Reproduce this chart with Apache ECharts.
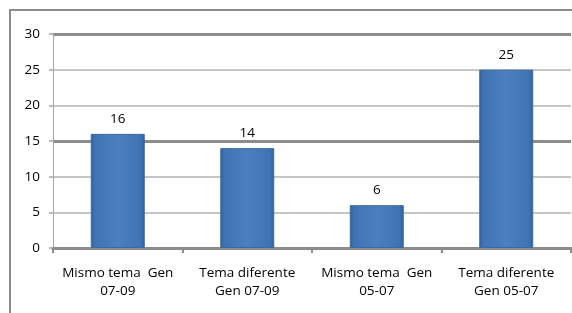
<!DOCTYPE html>
<html lang="es">
<head>
    <meta charset="UTF-8">
    <title>chart</title>
    <script src="https://cdn.jsdelivr.net/npm/echarts@6/dist/echarts.min.js"></script>
    <style>
        html, body { margin: 0; padding: 0; background: #fff; }
    </style>
</head>
<body>
<div id="main" style="width: 572px;height:313px;"></div>
<script>
    var categories = ['Mismo tema  Gen\n07-09', 'Tema diferente\nGen 07-09', 'Mismo tema  Gen\n05-07', 'Tema diferente\nGen 05-07'];
    var values = [16, 14, 6, 25];
    var yTicks = [0, 5, 10, 15, 20, 25, 30];

    var font = "'Open Sans', 'Noto Sans', sans-serif";
    var myChart = echarts.init(document.getElementById('main'));

    var option = {
        animation: false,
        graphic: [
            {
                type: 'polyline',
                shape: { points: [[10, 313], [10, 10], [572, 10]] },
                style: { stroke: '#8c8c8c', lineWidth: 2, fill: null }
            }
        ],
        grid: { left: 53, right: 1, top: 34, bottom: 65 },
        xAxis: {
            type: 'category',
            data: categories,
            axisLine: { lineStyle: { color: '#8c8c8c', width: 3 } },
            axisTick: { show: true, length: 5, inside: false, lineStyle: { color: '#8c8c8c', width: 2 } },
            axisLabel: { color: '#000', fontSize: 13.5, fontFamily: font, lineHeight: 18, margin: 16, interval: 0 }
        },
        yAxis: [
            {
                type: 'value',
                min: yTicks[0],
                max: yTicks[yTicks.length - 1],
                interval: 5,
                axisLine: { show: true, lineStyle: { color: '#a6a6a6', width: 1 } },
                axisTick: { show: true, length: 4, lineStyle: { color: '#a6a6a6', width: 1.5 } },
                axisLabel: { color: '#000', fontSize: 13.5, fontFamily: font, margin: 13 },
                splitLine: { show: true, lineStyle: { color: '#b3b3b3', width: 1.5 } }
            },
            {
                type: 'value',
                min: 0,
                max: 30,
                interval: 15,
                position: 'left',
                axisLine: { show: false },
                axisTick: { show: false },
                axisLabel: { show: false },
                splitLine: { show: true, lineStyle: { color: '#8c8c8c', width: 3 } }
            }
        ],
        series: [
            {
                type: 'bar',
                data: values,
                barWidth: 54,
                itemStyle: {
                    color: new echarts.graphic.LinearGradient(0, 0, 1, 0, [
                        { offset: 0, color: '#2f5f99' },
                        { offset: 0.08, color: '#3f74b4' },
                        { offset: 0.5, color: '#4b80c0' },
                        { offset: 0.92, color: '#3f74b4' },
                        { offset: 1, color: '#2f5f99' }
                    ]),
                    borderColor: '#3a6aa5',
                    borderWidth: 1
                },
                label: {
                    show: true,
                    position: 'top',
                    distance: 8,
                    color: '#000',
                    fontSize: 13.5,
                    fontFamily: font
                }
            }
        ]
    };
    myChart.setOption(option);
</script>
</body>
</html>
